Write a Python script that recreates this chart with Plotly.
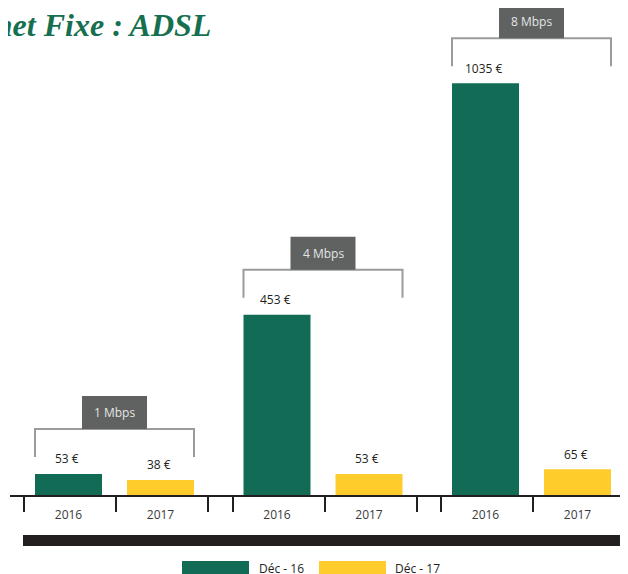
import plotly.graph_objects as go

# ===== Data =====
years = ["2016", "2017"]
speeds = ["1 Mbps", "4 Mbps", "8 Mbps"]
prices_dec16 = [53, 453, 1035]
prices_dec17 = [38, 53, 65]
series_names = ["Déc - 16", "Déc - 17"]
title_text = "Internet Fixe : ADSL"

# ===== Style =====
GREEN = "#126c55"
YELLOW = "#fecd2b"
BOX_GREY = "#5f6261"
BRACKET_GREY = "#9b9b9b"
INK = "#231f20"
FONT = "Open Sans"

# the page body has an 8px margin, so the figure is drawn 8px in
BODY = 8
W, H = 628 - BODY, 574 - BODY
ML, MB = 2, 79
PLOT_H = H - MB
YMAX = 1224

first_edge = 24
group_step = 208.5
slot = 92
bar_w = 67


def paper_y(row):
    # pixel row in the window -> paper y
    return (PLOT_H - (row - BODY)) / PLOT_H


def centre(g, k):
    return first_edge + g * group_step + k * slot + slot / 2 - 1.5


groups = range(len(speeds))

fig = go.Figure()
for k, (name, vals, col) in enumerate(zip(series_names,
                                          [prices_dec16, prices_dec17],
                                          [GREEN, YELLOW])):
    fig.add_trace(go.Bar(
        x=[centre(g, k) for g in groups], y=vals, width=bar_w,
        marker=dict(color=col, line=dict(width=0)),
        name=name, showlegend=False, hoverinfo="skip",
    ))

shapes = []
annotations = []

# value labels above bars
for k, vals in enumerate([prices_dec16, prices_dec17]):
    for g in groups:
        annotations.append(dict(
            x=centre(g, k) - 2, y=vals[g], xref="x", yref="y",
            text=f"{vals[g]} €", showarrow=False, yanchor="middle",
            yshift=15, font=dict(family=FONT, size=12, color=INK),
        ))

# brackets + speed boxes
for g in groups:
    top = max(prices_dec16[g], prices_dec17[g])
    x0 = centre(g, 0) - bar_w / 2
    x1 = centre(g, 1) + bar_w / 2
    mid = (x0 + x1) / 2
    shapes.append(dict(
        type="path", xref="x", yref="y", ysizemode="pixel", yanchor=top,
        path=f"M {x0},17 L {x0},45 L {x1},45 L {x1},17",
        line=dict(color=BRACKET_GREY, width=2),
    ))
    shapes.append(dict(
        type="rect", xref="x", yref="y", ysizemode="pixel", yanchor=top,
        x0=mid - 32.5, x1=mid + 32.5, y0=45, y1=78,
        fillcolor=BOX_GREY, line=dict(width=0),
    ))
    annotations.append(dict(
        x=mid, y=top, xref="x", yref="y", text=speeds[g], showarrow=False,
        yanchor="middle", yshift=61.5,
        font=dict(family=FONT, size=12, color="#e4e4e4"),
    ))

# thick black band under the axis
shapes.append(dict(
    type="rect", xref="x", yref="paper", x0=23, x1=625,
    y0=paper_y(546), y1=paper_y(535), fillcolor=INK, line=dict(width=0),
))

# legend drawn by hand (long flat swatches)
for (sx0, sx1, tx), name, col in zip([(182, 249, 257), (319, 386, 393)],
                                     series_names, [GREEN, YELLOW]):
    shapes.append(dict(
        type="rect", xref="x", yref="paper", x0=sx0, x1=sx1,
        y0=paper_y(576), y1=paper_y(561), fillcolor=col, line=dict(width=0),
    ))
    annotations.append(dict(
        x=tx, y=paper_y(568), xref="x", yref="paper", text=name,
        showarrow=False, xanchor="left", yanchor="middle",
        font=dict(family=FONT, size=12, color=INK),
    ))

# title, cut off on the left like the source
annotations.append(dict(
    x=213, y=paper_y(25), xref="x", yref="paper", text=title_text,
    showarrow=False, xanchor="right", yanchor="middle",
    font=dict(family="Liberation Serif", size=32, color="#16704f",
              weight="bold", style="italic"),
))

tick_centres = [centre(g, k) for g in groups for k in range(len(years))]
tick_edges = [first_edge + g * group_step + k * slot
              for g in groups for k in range(3)]

fig.update_layout(
    width=W, height=H,
    margin=dict(l=ML, r=0, t=0, b=MB, pad=0),
    plot_bgcolor="white", paper_bgcolor="white",
    shapes=shapes, annotations=annotations,
    xaxis=dict(
        range=[ML + BODY, W + BODY], showgrid=False, zeroline=False,
        showline=True, linecolor=INK, linewidth=2,
        tickmode="array", tickvals=tick_centres, ticktext=years * len(speeds),
        ticks="", ticklabelstandoff=8,
        tickfont=dict(family=FONT, size=12, color="#3a3a3a"),
        minor=dict(tickmode="array", tickvals=tick_edges, ticks="outside",
                   ticklen=15, tickwidth=2, tickcolor=INK, showgrid=False),
        fixedrange=True,
    ),
    yaxis=dict(range=[0, YMAX], visible=False, fixedrange=True),
)

fig.write_html("out.html")
